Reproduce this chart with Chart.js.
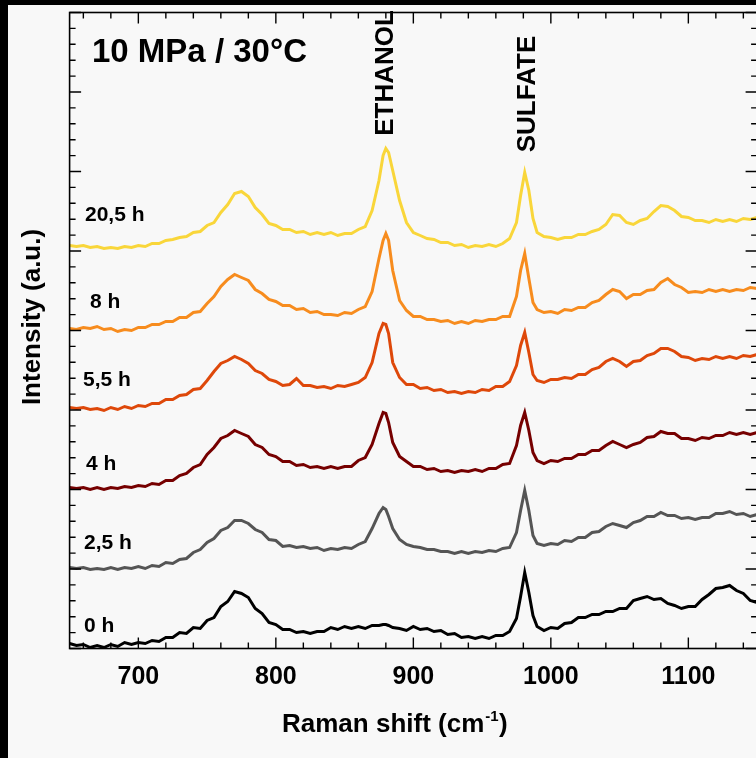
<!DOCTYPE html>
<html>
<head>
<meta charset="utf-8">
<script src="https://cdn.jsdelivr.net/npm/chart.js@4.4.0/dist/chart.umd.min.js"></script>
<style>
  body { margin: 0; background: #000; overflow: hidden; }
  #fondo { position: absolute; left: 8px; top: 5px; width: 760px; height: 760px; background: #f8f8f8; }
  #grafico { position: absolute; left: 0; top: 0; }
</style>
</head>
<body>
<div id="fondo"></div>
<canvas id="grafico" width="760" height="758"></canvas>
<script>
// Raman shift (cm-1)
const shifts = [
  650, 655, 660, 665, 670, 675, 680, 685, 690, 695,
  700, 705, 710, 715, 720, 725, 730, 735, 740, 745,
  750, 755, 760, 765, 770, 775, 780, 785, 790, 795,
  800, 805, 810, 815, 820, 825, 830, 835, 840, 845,
  850, 855, 860, 865, 870,
  875, 878, 880, 882,
  885, 890, 895, 900, 905, 910, 915, 920, 925, 930,
  935, 940, 945, 950, 955, 960, 965, 970, 975,
  978, 981, 984, 987,
  990, 995, 1000, 1005, 1010, 1015, 1020, 1025, 1030, 1035,
  1040, 1045, 1050, 1055, 1060, 1065, 1070, 1075, 1080, 1085,
  1090, 1095, 1100, 1105, 1110, 1115, 1120, 1125, 1130, 1135,
  1140, 1145, 1150
];

// intensidades (a.u.), ya desplazadas como en la figura
const int20_5h = [
  403, 402, 403, 401, 402, 400, 401, 400, 402, 401,
  403, 402, 405, 405, 408, 409, 411, 412, 416, 417,
  423, 426, 436, 444, 455, 457, 452, 441, 434, 425,
  423, 419, 419, 416, 417, 414, 416, 414, 416, 413,
  415, 415, 419, 422, 438,
  468, 493, 500, 496,
  478, 448, 426, 416, 413, 410, 409, 406, 406, 403,
  404, 401, 403, 402, 404, 402, 405, 410, 426,
  453, 476, 458, 430,
  416, 412, 411, 409, 411, 411, 414, 414, 417, 419,
  424, 434, 433, 426, 424, 428, 430, 437, 443, 442,
  438, 432, 431, 428, 428, 426, 429, 427, 429, 427,
  430, 429, 431
];
const int8h = [
  320, 319, 321, 320, 322, 319, 320, 317, 319, 318,
  321, 321, 324, 324, 327, 327, 331, 331, 336, 337,
  345, 352, 362, 369, 374, 371, 368, 359, 355, 349,
  347, 343, 343, 339, 340, 336, 337, 334, 334, 333,
  336, 335, 339, 342, 357,
  390, 408, 415, 408,
  378, 348, 338, 332, 332, 329, 329, 327, 328, 325,
  327, 325, 328, 327, 329, 329, 332, 332, 352,
  378, 395, 370, 346,
  339, 336, 337, 335, 339, 338, 341, 341, 346, 348,
  354, 359, 357, 350, 354, 354, 358, 359, 366, 370,
  364, 361, 356, 357, 356, 359, 357, 359, 357, 359,
  358, 361, 360
];
const int5_5h = [
  241, 240, 241, 239, 240, 238, 241, 239, 242, 240,
  243, 242, 245, 245, 249, 249, 253, 254, 259, 260,
  268, 277, 285, 288, 292, 289, 285, 278, 275, 269,
  267, 263, 264, 270, 263, 263, 261, 262, 260, 263,
  262, 264, 266, 271, 286,
  315, 325, 324, 315,
  286, 271, 264, 264, 260, 261, 258, 259, 256, 257,
  255, 257, 256, 259, 258, 262, 262, 267, 283,
  303, 316, 296, 274,
  268, 266, 269, 269, 271, 270, 274, 274, 279, 281,
  287, 290, 287, 282, 287, 288, 293, 295, 300, 300,
  297, 292, 291, 288, 290, 289, 292, 290, 292, 290,
  293, 292, 294
];
const int4h = [
  161, 160, 161, 159, 161, 159, 161, 160, 162, 161,
  163, 162, 165, 164, 168, 168, 173, 175, 181, 184,
  194, 201, 210, 213, 218, 215, 212, 204, 201, 194,
  192, 187, 187, 183, 184, 181, 182, 180, 182, 180,
  182, 182, 188, 191, 204,
  225, 236, 235, 226,
  206, 192, 187, 182, 182, 179, 180, 177, 178, 176,
  178, 177, 179, 177, 180, 180, 184, 185, 203,
  223, 236, 218, 196,
  188, 185, 188, 187, 190, 190, 194, 194, 198, 198,
  203, 207, 204, 201, 204, 206, 211, 212, 217, 215,
  215, 210, 210, 208, 211, 210, 213, 213, 216, 214,
  216, 214, 216
];
const int2_5h = [
  81, 80, 81, 79, 80, 79, 81, 79, 81, 80,
  82, 80, 83, 82, 86, 85, 89, 90, 96, 99,
  106, 110, 118, 121, 128, 128, 125, 119, 116, 109,
  108, 102, 103, 101, 102, 100, 101, 98, 100, 99,
  101, 100, 104, 107, 120,
  135, 141, 139, 132,
  120, 109, 104, 102, 101, 99, 99, 97, 97, 95,
  97, 95, 97, 96, 98, 97, 100, 101, 116,
  138, 158, 138, 113,
  105, 103, 105, 104, 108, 107, 111, 111, 116, 117,
  122, 125, 123, 121, 126, 128, 132, 132, 136, 133,
  133, 130, 131, 129, 131, 131, 135, 135, 137, 134,
  135, 132, 134
];
const int0h = [
  5, 3, 4, 1, 3, 1, 4, 2, 6, 4,
  6, 5, 8, 7, 11, 11, 16, 15, 21, 20,
  28, 31, 42, 47, 57, 55, 51, 40, 35, 26,
  24, 19, 19, 16, 17, 15, 17, 17, 21, 19,
  22, 20, 22, 20, 23,
  23, 24, 24, 23,
  21, 20, 18, 22, 19, 20, 17, 18, 14, 15,
  11, 12, 10, 12, 10, 13, 13, 17, 30,
  52, 76, 56, 33,
  22, 18, 21, 20, 25, 26, 31, 31, 34, 34,
  37, 37, 40, 40, 48, 50, 52, 49, 50, 45,
  43, 40, 42, 42, 49, 54, 60, 61, 63, 58,
  55, 48, 46
];

const seriesNames = ["0 h", "2,5 h", "4 h", "5,5 h", "8 h", "20,5 h"];
const seriesColors = ["#000000", "#555555", "#760000", "#de480a", "#f78c1e", "#f9d63a"];
const xTickValues = [700, 800, 900, 1000, 1100];

const fuente = "'Liberation Sans', Arial, sans-serif";
const yMax = 636;
const yPaso = 15.9;

function armarPuntos(valores) {
  return shifts.map((x, i) => ({ x: x, y: valores[i] }));
}

const todas = [int0h, int2_5h, int4h, int5_5h, int8h, int20_5h];
const datasets = todas.map((serie, i) => ({
  label: seriesNames[i],
  data: armarPuntos(serie),
  borderColor: seriesColors[i],
  borderWidth: 3,
  pointRadius: 0,
  tension: 0,
  clip: false
}));

// marco, ticks hacia adentro y textos
const marcoPlugin = {
  id: "marco",
  afterDatasetsDraw(chart) {
    const ctx = chart.ctx;
    const a = chart.chartArea;
    const sx = chart.scales.x;
    const sy = chart.scales.y;
    ctx.save();
    ctx.strokeStyle = "#000";
    ctx.lineWidth = 1.6;
    ctx.strokeRect(a.left, a.top, a.right - a.left, a.bottom - a.top);

    ctx.lineWidth = 1.4;
    ctx.beginPath();
    for (let v = 660; v <= 1150; v += 20) {
      const px = sx.getPixelForValue(v);
      const largo = v % 100 === 0 ? 11 : 6;
      ctx.moveTo(px, a.bottom);
      ctx.lineTo(px, a.bottom - largo);
      ctx.moveTo(px, a.top);
      ctx.lineTo(px, a.top + largo);
    }
    for (let k = 0; k <= 40; k++) {
      const py = sy.getPixelForValue(k * yPaso);
      const largo = k % 5 === 0 ? 11.5 : 6;
      ctx.moveTo(a.left, py);
      ctx.lineTo(a.left + largo, py);
      ctx.moveTo(a.right, py);
      ctx.lineTo(a.right - largo, py);
    }
    ctx.stroke();

    ctx.fillStyle = "#000";
    ctx.textAlign = "left";
    ctx.textBaseline = "alphabetic";
    ctx.font = "bold 33px " + fuente;
    ctx.fillText("10 MPa / 30°C", 92, 62);

    // nombres de las curvas
    const posLabels = [[84, 626], [84, 543], [86, 464], [83, 380], [90, 302.5], [85, 215.5]];
    ctx.font = "bold 21px " + fuente;
    ctx.textBaseline = "middle";
    for (let i = 0; i < seriesNames.length; i++) {
      ctx.fillText(seriesNames[i], posLabels[i][0], posLabels[i][1]);
    }

    // textos verticales
    ctx.font = "bold 26px " + fuente;
    ctx.textAlign = "center";
    const verticales = [["ETHANOL", 386, 73], ["SULFATE", 528, 94], ["Intensity (a.u.)", 33, 317]];
    verticales.forEach((t) => {
      ctx.save();
      ctx.translate(t[1], t[2]);
      ctx.rotate(-Math.PI / 2);
      ctx.fillText(t[0], 0, 0);
      ctx.restore();
    });

    // titulo eje x con superindice
    ctx.textAlign = "left";
    ctx.textBaseline = "alphabetic";
    let x = 282;
    const base = 732;
    ctx.font = "bold 26px " + fuente;
    ctx.fillText("Raman shift (cm", x, base);
    x += ctx.measureText("Raman shift (cm").width;
    ctx.font = "bold 15px " + fuente;
    ctx.fillText("-1", x + 1, base - 11);
    x += ctx.measureText("-1").width + 1.5;
    ctx.font = "bold 26px " + fuente;
    ctx.fillText(")", x, base);
    ctx.restore();
  }
};

new Chart(document.getElementById("grafico"), {
  type: "line",
  data: { datasets: datasets },
  options: {
    responsive: false,
    animation: false,
    layout: { padding: { top: 12.5, right: 2.9, left: 0, bottom: 0 } },
    plugins: { legend: { display: false }, tooltip: { enabled: false } },
    scales: {
      x: {
        type: "linear",
        min: 650,
        max: 1150,
        afterBuildTicks: (s) => { s.ticks = xTickValues.map((v) => ({ value: v })); },
        ticks: {
          color: "#000",
          padding: 14,
          maxRotation: 0,
          font: { family: fuente, size: 25, weight: "bold" },
          callback: (v) => String(v)
        },
        grid: { display: false, drawTicks: false },
        border: { display: false },
        afterFit: (s) => { s.height = 109.5; }
      },
      y: {
        min: 0,
        max: yMax,
        ticks: { display: false },
        grid: { display: false, drawTicks: false },
        border: { display: false },
        afterFit: (s) => { s.width = 69.6; }
      }
    }
  },
  plugins: [marcoPlugin]
});
</script>
</body>
</html>
